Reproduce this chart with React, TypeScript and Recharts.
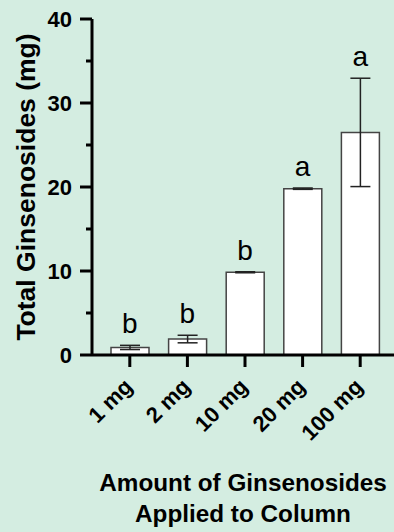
import React from 'react';
import { ComposedChart, Bar, Line, XAxis, YAxis, ErrorBar, LabelList, Label } from 'recharts';

const categories = ['1 mg', '2 mg', '10 mg', '20 mg', '100 mg'];
const means = [0.9, 1.9, 9.85, 19.8, 26.5];
const errors = [0.25, 0.45, 0.06, 0.08, 6.45];
const letters = ['b', 'b', 'b', 'a', 'a'];
const yTicks = [0, 5, 10, 15, 20, 25, 30, 35, 40];
const yTitle = 'Total Ginsenosides (mg)';
const xTitleLines = ['Amount of Ginsenosides', 'Applied to Column'];

const data = categories.map((name, i) => ({
  name,
  mean: means[i],
  err: errors[i],
  top: means[i] + errors[i],
  letter: letters[i],
}));

const FONT = '"Liberation Sans", Arial, Helvetica, sans-serif';

const YTick = (props: any) => {
  const { x, y, payload } = props;
  const major = payload.value % 10 === 0;
  return (
    <g>
      <line x1={major ? x : x + 6} x2={x + 12} y1={y} y2={y} stroke="#000" strokeWidth={3} />
      {major && (
        <text x={x - 8} y={y} dy="0.36em" textAnchor="end" fontFamily={FONT} fontWeight="bold" fontSize={22} fill="#000">
          {payload.value}
        </text>
      )}
    </g>
  );
};

const XTick = (props: any) => {
  const { x, y, payload } = props;
  const px = x + 4;
  const py = y + 21;
  return (
    <text x={px} y={py} textAnchor="end" transform={`rotate(-45 ${px} ${py})`} fontFamily={FONT} fontWeight="bold" fontSize={22} fill="#000">
      {payload.value}
    </text>
  );
};

const XTitle = (props: any) => {
  const vb = props.viewBox || {};
  const cx = vb.x + vb.width / 2;
  return (
    <text textAnchor="middle" fontFamily={FONT} fontWeight="bold" fontSize={24.3} fill="#000">
      <tspan x={cx} y={vb.y + 136}>{xTitleLines[0]}</tspan>
      <tspan x={cx} y={vb.y + 167}>{xTitleLines[1]}</tspan>
    </text>
  );
};

const YTitle = () => {
  const cy = 187;
  const cx = 35;
  return (
    <text x={cx} y={cy} textAnchor="middle" transform={`rotate(-90 ${cx} ${cy})`} fontFamily={FONT} fontWeight="bold" fontSize={26.5} fill="#000">
      {yTitle}
    </text>
  );
};

const LetterLabel = (props: any) => {
  const { x, y, value } = props;
  return (
    <text x={x} y={y - 12} textAnchor="middle" fontFamily={FONT} fontSize={28} fill="#000">
      {value}
    </text>
  );
};

export default function App() {
  return (
    <div style={{ position: 'absolute', left: 0, top: 0, width: 394, height: 532, background: '#d4ede1' }}>
      <ComposedChart width={394} height={532} data={data} margin={{ top: 19, right: 0, bottom: 0, left: 0 }}>
        <XAxis
          dataKey="name"
          height={177}
          padding={{ left: 9, right: 5 }}
          tickSize={12}
          tickMargin={0}
          tickLine={{ stroke: '#000', strokeWidth: 3 }}
          axisLine={{ stroke: '#000', strokeWidth: 3 }}
          tick={<XTick />}
          interval={0}
        >
          <Label content={<XTitle />} />
        </XAxis>
        <YAxis
          width={92}
          domain={[0, 40]}
          ticks={yTicks}
          interval={0}
          tickSize={12}
          tickMargin={0}
          tickLine={false}
          axisLine={{ stroke: '#000', strokeWidth: 3 }}
          tick={<YTick />}
        >
          <Label content={<YTitle />} />
        </YAxis>
        <Bar dataKey="mean" fill="#ffffff" stroke="#444" strokeWidth={1.5} barSize={38} isAnimationActive={false}>
          <ErrorBar dataKey="err" width={10} stroke="#222" strokeWidth={1.5} />
        </Bar>
        <Line dataKey="top" stroke="none" dot={false} activeDot={false} isAnimationActive={false}>
          <LabelList dataKey="letter" content={<LetterLabel />} />
        </Line>
      </ComposedChart>
    </div>
  );
}
